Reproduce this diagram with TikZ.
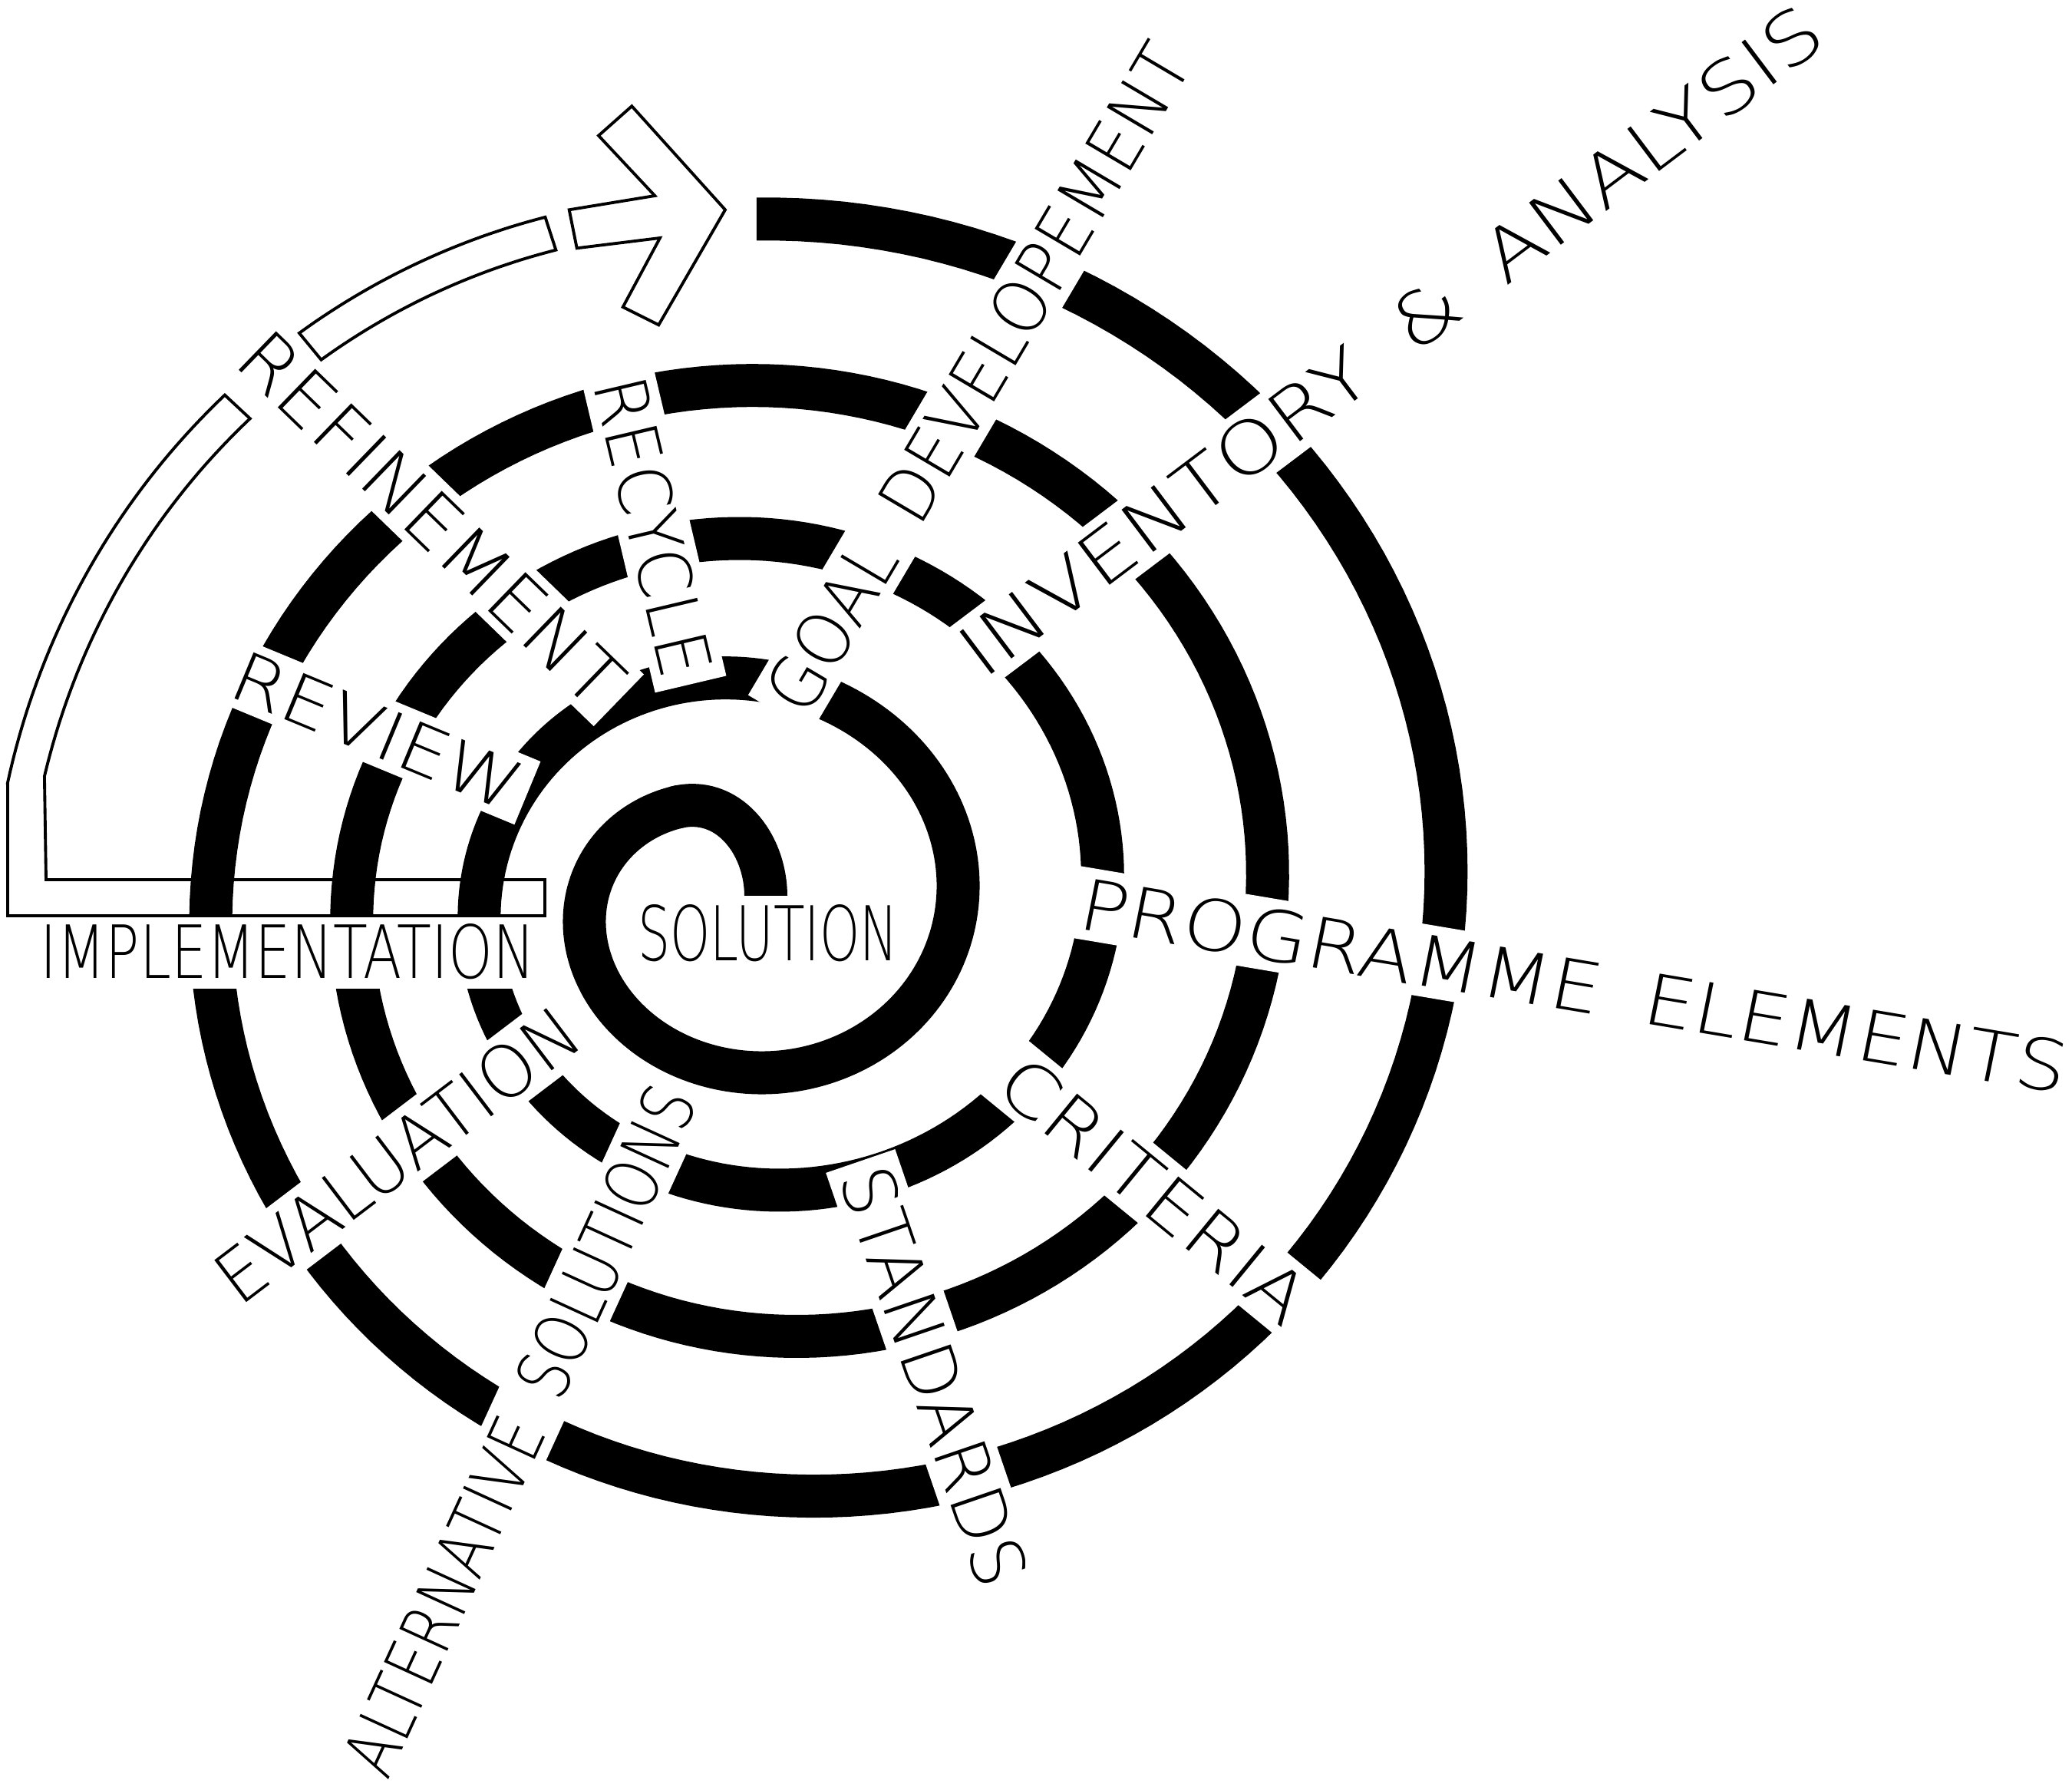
\documentclass[tikz,border=0pt]{standalone}
\usepackage{fontspec}
\usepackage{graphicx}
\usepackage{tikz}
\IfFontExistsTF{DejaVuSans-ExtraLight.ttf}
  {\newfontfamily\cadfont{DejaVuSans-ExtraLight.ttf}}
  {\IfFontExistsTF{DejaVu Sans ExtraLight}
    {\newfontfamily\cadfont{DejaVu Sans ExtraLight}}
    {\IfFontExistsTF{FiraSans-ExtraLight.otf}
      {\newfontfamily\cadfont{FiraSans-ExtraLight.otf}}
      {\newfontfamily\cadfont{Fira Sans}}}}
\newcommand{\cadtext}[3]{\resizebox{#1cm}{#2cm}{\cadfont #3}}
\newcommand{\wordgap}{\hspace{0.55em}}

\tikzset{
  spiral/.style={line width=0.56cm, black},
  band/.style={line width=1.1pt, black, line join=miter},
  tag/.style={fill=white, inner sep=0.12cm},
}

\begin{document}
\begin{tikzpicture}[declare function={
    gr(\t)=0.248*\t+0.00222*\t*\t+0.2*(\t<6.2832)*sin(deg(\t/2))^2;
    spx(\t)=9.5475+0.032*\t-(1.4625+gr(\t))*sin(deg(\t));
    spy(\t)=-11.725+(1.235+gr(\t))*cos(deg(\t));
    rout(\x)=9.37+0.0103*(\x-108);
    rin(\x)=rout(\x)-0.45;}]
    \useasboundingbox (0,0) rectangle (27,-23.27);

    \draw[spiral] (9.98,-12.0) -- (9.98,-11.68) .. controls (9.98,-10.98) and (9.474,-10.344) .. (8.797,-10.521);
    \draw[spiral] plot[domain=0.45:25.195, samples=800, variable=\t] ({spx(\t)}, {spy(\t)});

    \coordinate (Sol) at (10.01,-12.16);
    \coordinate (Imp) at (3.75,-12.40);
    \coordinate (Prg) at (20.51,-12.84);
    \coordinate (Cri) at (15.045,-15.505);
    \coordinate (Std) at (12.175,-17.935);
    \coordinate (Alt) at (6.77,-18.635);
    \coordinate (Eva) at (5.175,-15.045);
    \coordinate (Rev) at (4.915,-9.52);
    \coordinate (Ref) at (5.625,-6.76);
    \coordinate (Rec) at (8.515,-6.86);
    \coordinate (Goa) at (12.745,-4.925);
    \coordinate (Inv) at (18.12,-4.44);

    \node[tag, inner xsep=0.06cm] (solution) at (Sol) {\cadtext{3.39}{0.73}{SOLUTION}};
    \node[tag] (implementation) at (Imp) {\cadtext{6.44}{0.71}{IMPLEMENTATION}};
    \node[tag, cm={1,-0.168,0.2,1,(0,0)}] (programme) at (Prg) {\cadtext{12.84}{0.67}{PROGRAMME\wordgap ELEMENTS}};
    \node[tag, rotate=-39.3] (criteria) at (Cri) {\cadtext{4.90}{0.68}{CRITERIA}};
    \node[tag, rotate=-71.1] (standards) at (Std) {\cadtext{5.70}{0.70}{STANDARDS}};
    \node[tag, rotate=65.4] (alternatives) at (Alt) {\cadtext{9.73}{0.70}{ALTERNATIVE\wordgap SOLUTIONS}};
    \node[tag, rotate=37.2] (evaluation) at (Eva) {\cadtext{5.68}{0.70}{EVALUATION}};
    \node[tag, rotate=-22.5] (review) at (Rev) {\cadtext{4.00}{0.65}{REVIEW}};
    \node[tag, rotate=-44.1] (refinement) at (Ref) {\cadtext{6.55}{0.70}{REFINEMENT}};
    \node[tag, rotate=-76.7] (recycle) at (Rec) {\cadtext{3.98}{0.70}{RECYCLE}};
    \node[tag, rotate=59.4] (goal) at (Goa) {\cadtext{9.92}{0.70}{GOAL\wordgap DEVELOPEMENT}};
    \node[tag, rotate=37.0] (inventory) at (Inv) {\cadtext{13.80}{0.70}{INVENTORY\wordgap\&\wordgap ANALYSIS}};

    \draw[band] (7.10,-11.93) -- (0.10,-11.93) -- (0.10,-10.21)
        -- plot[domain=171.2:137, samples=40, variable=\x] ({10+rout(\x)*cos(\x)}, {-11.74+rout(\x)*sin(\x)})
        -- plot[domain=137:170.2, samples=40, variable=\x] ({10+rin(\x)*cos(\x)}, {-11.74+rin(\x)*sin(\x)})
        -- (0.60,-11.46) -- (7.10,-11.46) -- cycle;
    \draw[band] plot[domain=129.5:108, samples=30, variable=\x] ({10+rout(\x)*cos(\x)}, {-11.74+rout(\x)*sin(\x)})
        -- plot[domain=108:129.5, samples=30, variable=\x] ({10+rin(\x)*cos(\x)}, {-11.74+rin(\x)*sin(\x)}) -- cycle;
    \draw[band] (7.417,-2.733) -- (8.533,-2.55) -- (7.80,-1.767) -- (8.233,-1.383) -- (9.45,-2.733)
        -- (8.583,-4.233) -- (8.117,-4.00) -- (8.60,-3.10) -- (7.517,-3.233) -- cycle;
\end{tikzpicture}
\end{document}
